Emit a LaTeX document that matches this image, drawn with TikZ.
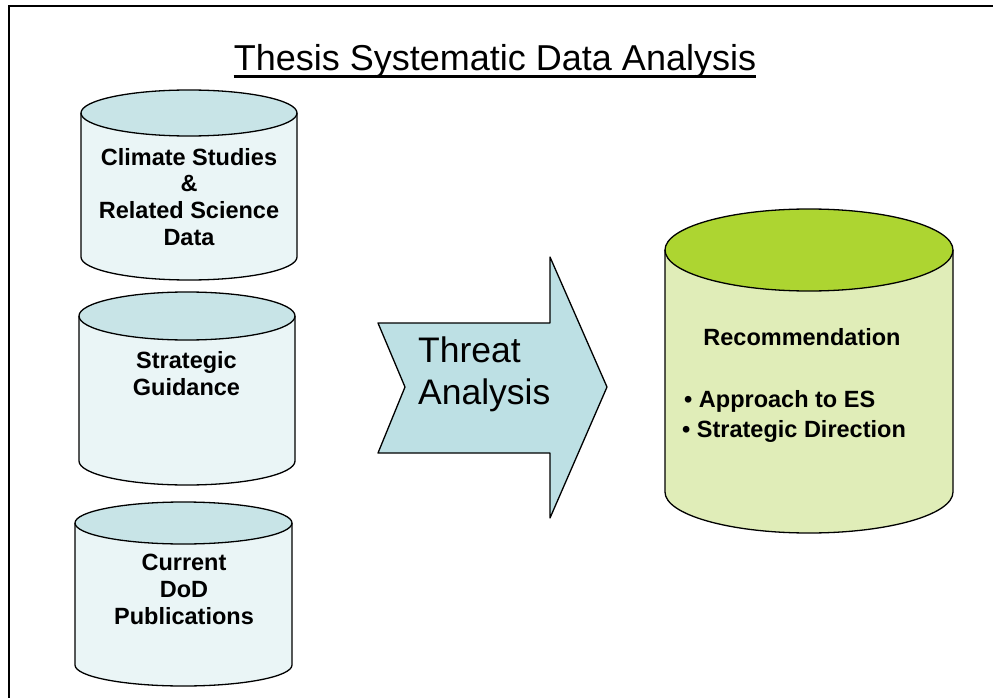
\documentclass[tikz,border=0pt]{standalone}
\usepackage{fontspec}
\setmainfont{Liberation Sans}
\definecolor{cyltop}{RGB}{200,228,231}
\definecolor{cylbody}{RGB}{234,245,246}
\definecolor{arrowfill}{RGB}{189,224,228}
\definecolor{rectop}{RGB}{173,213,49}
\definecolor{recbody}{RGB}{224,237,184}
\newcommand\mydbcyl[7]{%
  \fill[#7] ({#1-#2},#3) -- ({#1-#2},#4) arc[start angle=180,end angle=360,x radius=#2,y radius=#5] -- ({#1+#2},#3) -- cycle;
  \fill[#6] (#1,#3) ellipse[x radius=#2,y radius=#5];
  \draw[outl] ({#1-#2},#3) -- ({#1-#2},#4) arc[start angle=180,end angle=360,x radius=#2,y radius=#5] -- ({#1+#2},#3);
  \draw[outl] (#1,#3) ellipse[x radius=#2,y radius=#5];
}
\tikzset{
  outl/.style={line width=1.3bp, black, line join=round},
  cyltext/.style={font=\bfseries\fontsize{23.5bp}{26.8bp}\selectfont, align=center, inner sep=0pt},
  bigtext/.style={font=\fontsize{35.5bp}{42bp}\selectfont, inner sep=0pt},
}
\begin{document}
\begin{tikzpicture}[x=1bp,y=1bp]
\useasboundingbox (0,0) rectangle (993,-698);
\fill[white] (0,0) rectangle (993,-698);
% frame
\draw[line width=2.5bp] (9,-698) -- (9,-6) -- (993,-6);
% title
\node[bigtext, anchor=base, font=\fontsize{36bp}{40bp}\selectfont] (title) at (495,-70.5) {Thesis Systematic Data Analysis};
\draw[line width=2.6bp] ([yshift=-6bp]title.base west) -- ([yshift=-6bp]title.base east);
% cylinders
\mydbcyl{189}{108}{-113}{-257}{23}{cyltop}{cylbody}
\mydbcyl{187}{108}{-316}{-461}{24}{cyltop}{cylbody}
\mydbcyl{183.5}{108.5}{-523}{-665}{21}{cyltop}{cylbody}
\mydbcyl{809}{144}{-250}{-492}{41}{rectop}{recbody}
\node[cyltext] (climate) at (189,-197) {Climate Studies\\\&\\Related Science\\Data};
\node[cyltext] (strat) at (186.5,-373.5) {Strategic\\Guidance};
\node[cyltext] (dod) at (184,-589.5) {Current\\DoD\\Publications};
\node[cyltext] (rec) at (802,-337) {Recommendation};
\node[cyltext, anchor=west] (b1) at (684,-401) {• Approach to ES};
\node[cyltext, anchor=west] (b2) at (682,-431) {• Strategic Direction};
% arrow
\draw[outl, fill=arrowfill] (378,-323) -- (405,-387) -- (378,-453) -- (550,-453) -- (550,-518) -- (607,-387) -- (550,-257) -- (550,-323) -- cycle;
\node[bigtext, align=left, anchor=west] (threat) at (418,-374) {Threat\\Analysis};
\end{tikzpicture}
\end{document}
